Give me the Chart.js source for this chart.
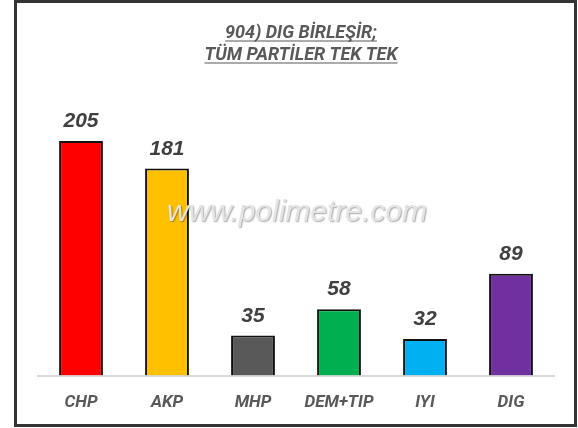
<!DOCTYPE html>
<html>
<head>
<meta charset="utf-8">
<script src="https://cdn.jsdelivr.net/npm/chart.js@4.4.1/dist/chart.umd.min.js"></script>
<style>
  html, body { margin: 0; padding: 0; background: #fff; }
  #wrap { width: 578px; height: 428px; position: relative; }
</style>
</head>
<body>
<div id="wrap"><canvas id="chart" width="578" height="428"></canvas></div>
<script>
// Party seat counts
const parties = ['CHP', 'AKP', 'MHP', 'DEM+TIP', 'IYI', 'DIG'];
const seats = [205, 181, 35, 58, 32, 89];
const barColors = ['#FF0000', '#FFC000', '#595959', '#00B050', '#00B0F0', '#7030A0'];
const titleLines = ['904) DIG BİRLEŞİR;', 'TÜM PARTİLER TEK TEK'];
const watermark = 'www.polimetre.com';

// frame, title, watermark and value labels
const decorPlugin = {
    id: 'decor',
    beforeDraw(chart) {
        const ctx = chart.ctx;
        ctx.save();
        ctx.fillStyle = '#fff';
        ctx.fillRect(0, 0, chart.width, chart.height);
        ctx.strokeStyle = '#333';
        ctx.lineWidth = 3;
        ctx.strokeRect(15.5, 1.5, 560, 424);
        ctx.restore();
    },
    afterDatasetsDraw(chart) {
        const ctx = chart.ctx;
        ctx.save();

        // title, underlined
        ctx.font = 'italic bold 18px Roboto';
        ctx.fillStyle = '#595959';
        ctx.strokeStyle = '#595959';
        ctx.lineWidth = 1.2;
        ctx.textAlign = 'center';
        ctx.textBaseline = 'alphabetic';
        const tx = 301;
        [38, 60].forEach((y, i) => {
            ctx.fillText(titleLines[i], tx, y);
            const w = ctx.measureText(titleLines[i]).width;
            ctx.beginPath();
            ctx.moveTo(tx - w / 2, y + 3);
            ctx.lineTo(tx + w / 2, y + 3);
            ctx.stroke();
        });

        // value labels
        ctx.font = 'italic bold 21px "Liberation Sans"';
        ctx.fillStyle = '#404040';
        const meta = chart.getDatasetMeta(0);
        meta.data.forEach((bar, i) => {
            ctx.fillText(String(seats[i]), bar.x, bar.y - 14);
        });

        // watermark
        ctx.font = 'italic 30px "Liberation Sans"';
        ctx.shadowColor = 'rgba(0,0,0,0.35)';
        ctx.shadowBlur = 1.5;
        ctx.shadowOffsetX = 1;
        ctx.shadowOffsetY = 1;
        ctx.fillStyle = '#e4e4e4';
        ctx.textBaseline = 'middle';
        ctx.fillText(watermark, 297, 213);
        ctx.restore();
    }
};

new Chart(document.getElementById('chart'), {
    type: 'bar',
    data: {
        labels: parties,
        datasets: [{
            data: seats,
            backgroundColor: barColors,
            borderColor: '#111',
            borderWidth: 2,
            borderSkipped: 'start',
            barPercentage: 0.51,
            categoryPercentage: 1
        }]
    },
    options: {
        responsive: false,
        animation: false,
        layout: { padding: { left: 38, right: 24, top: 101, bottom: -2 } },
        plugins: {
            legend: { display: false },
            tooltip: { enabled: false }
        },
        scales: {
            x: {
                grid: { display: false, drawTicks: false },
                border: { display: true, color: '#d9d9d9', width: 2 },
                ticks: {
                    padding: 17,
                    color: '#595959',
                    font: { family: 'Roboto', size: 17, style: 'italic', weight: 'bold' }
                }
            },
            y: {
                display: false,
                min: 0,
                max: 240
            }
        }
    },
    plugins: [decorPlugin]
});
</script>
</body>
</html>
